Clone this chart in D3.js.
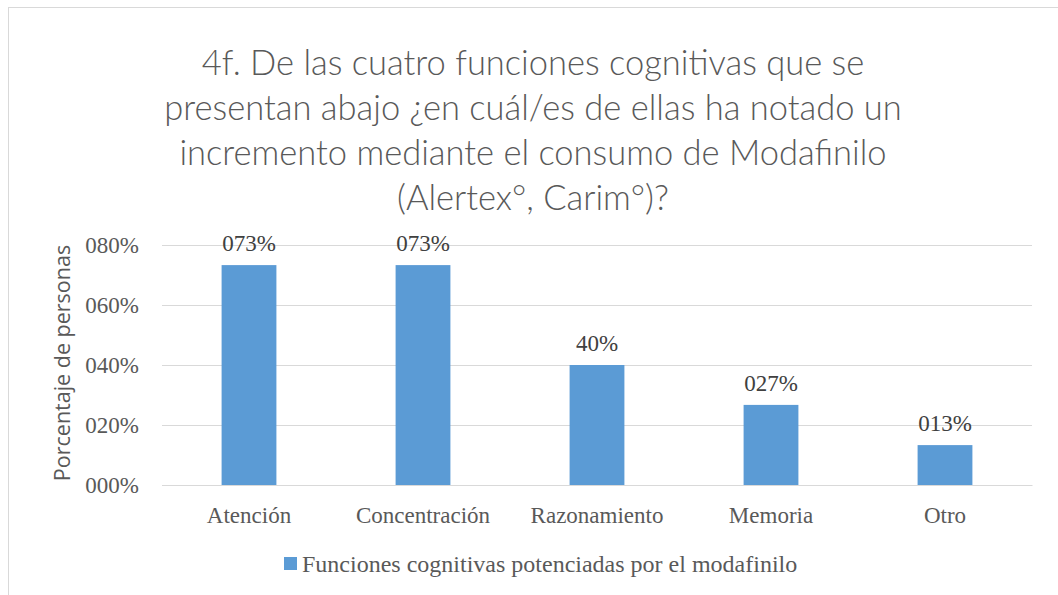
<!DOCTYPE html>
<html><head><meta charset="utf-8">
<script src="https://cdn.jsdelivr.net/npm/d3@7"></script>
<style>body{margin:0;background:#fff}</style>
</head><body>
<script>
const categories = ["Atención","Concentración","Razonamiento","Memoria","Otro"];
const values = [0.733, 0.733, 0.40, 0.267, 0.133];
const valueLabels = ["073%","073%","40%","027%","013%"];
const yTicks = [0, 0.2, 0.4, 0.6, 0.8];
const yTickLabels = ["000%","020%","040%","060%","080%"];
const titleLines = ["4f. De las cuatro funciones cognitivas que se","presentan abajo ¿en cuál/es de ellas ha notado un","incremento mediante el consumo de Modafinilo","(Alertex°, Carim°)?"];
const seriesName = "Funciones cognitivas potenciadas por el modafinilo";
const yTitle = "Porcentaje de personas";

const W=1058,H=595;
const svg=d3.select("body").append("svg").attr("width",W).attr("height",H);
svg.append("rect").attr("x",8.5).attr("y",7.5).attr("width",W+10).attr("height",H+10).attr("fill","#fff").attr("stroke","#d9d9d9");

const m={l:162,r:1032,t:245,b:485};
const x=d3.scaleBand().domain(categories).range([m.l,m.r]).paddingInner(0.685).paddingOuter(0.3425);
const y=d3.scaleLinear().domain([0,0.8]).range([m.b,m.t]);

const tc="#595959";
// title
svg.append("g").selectAll("text").data(titleLines).join("text")
 .attr("x",533).attr("y",(d,i)=>75+i*45).attr("text-anchor","middle")
 .attr("font-family","Lato").attr("font-weight",300).attr("font-size",34.5).attr("fill",tc).text(d=>d);

// grid
const ya=d3.axisLeft(y).tickValues(yTicks).tickSize(-(m.r-m.l)).tickFormat((d,i)=>yTickLabels[i]).tickPadding(23);
const gy=svg.append("g").attr("transform",`translate(${m.l},0)`).call(ya);
gy.select(".domain").remove();
gy.selectAll(".tick line").attr("stroke","#d9d9d9").attr("stroke-width",1);
gy.selectAll(".tick text").attr("font-family","Liberation Serif").attr("font-size",23).attr("fill",tc).attr("dy","0.34em");

// bars
svg.append("g").selectAll("rect").data(values).join("rect")
 .attr("x",(d,i)=>x(categories[i])).attr("width",x.bandwidth())
 .attr("y",d=>y(d)).attr("height",d=>y(0)-y(d)).attr("fill","#5b9bd5");

// value labels
svg.append("g").selectAll("text").data(values).join("text")
 .attr("x",(d,i)=>x(categories[i])+x.bandwidth()/2).attr("y",d=>y(d)-14)
 .attr("text-anchor","middle").attr("font-family","Liberation Serif").attr("font-size",23).attr("fill","#404040")
 .text((d,i)=>valueLabels[i]);

// x axis
const xa=d3.axisBottom(x).tickSize(0).tickPadding(22);
const gx=svg.append("g").attr("transform",`translate(0,${m.b})`).call(xa);
gx.select(".domain").attr("stroke","#d9d9d9");
gx.selectAll(".tick text").attr("font-family","Liberation Serif").attr("font-size",23).attr("fill",tc);

// y title
svg.append("text").attr("transform","translate(70,363) rotate(-90)").attr("text-anchor","middle")
 .attr("font-family","Open Sans").attr("font-size",21.5).attr("fill",tc).text(yTitle);

// legend
svg.append("rect").attr("x",284).attr("y",557).attr("width",13).attr("height",13).attr("fill","#5b9bd5");
svg.append("text").attr("x",302).attr("y",572).attr("font-family","Liberation Serif").attr("font-size",24).attr("fill",tc).text(seriesName);
</script>
</body></html>
